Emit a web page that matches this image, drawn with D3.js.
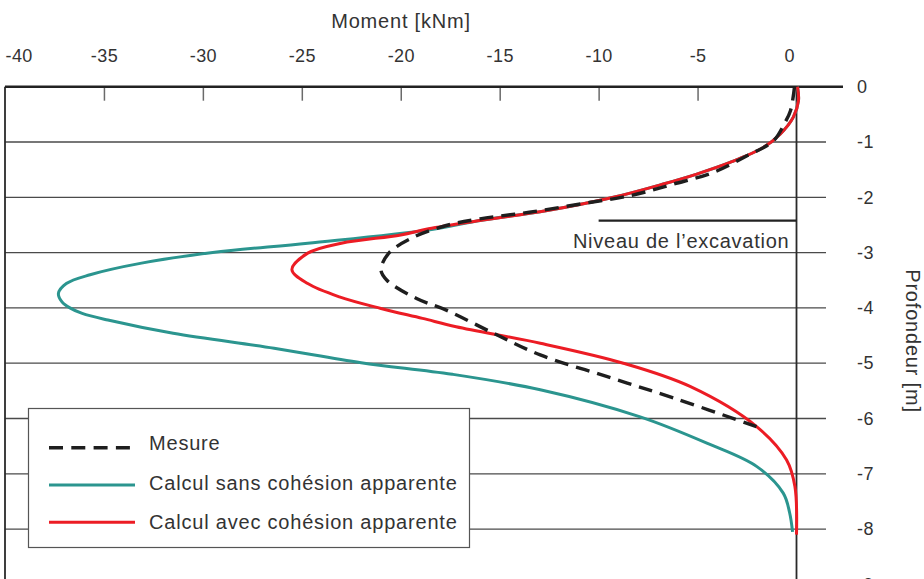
<!DOCTYPE html>
<html>
<head>
<meta charset="utf-8">
<script src="https://cdn.jsdelivr.net/npm/d3@7"></script>
<style>
  html, body { margin: 0; padding: 0; background: #fff; }
  svg { display: block; font-family: "Liberation Sans", Arial, Helvetica, sans-serif; }
</style>
</head>
<body>
<svg id="chart" width="924" height="579"></svg>
<script>
// Axis ticks
const momentTicks = [-40, -35, -30, -25, -20, -15, -10, -5, 0];
const depthTicks = [0, -1, -2, -3, -4, -5, -6, -7, -8, -9];

// Series: [depth (m), moment (kNm)]
const mesure = [
  [0, -0.1], [-0.43, -0.3], [-0.66, -0.6], [-0.98, -1.17], [-1.25, -2.5],
  [-1.55, -4.2], [-1.76, -6.2], [-1.97, -8.4], [-2.12, -10.9], [-2.27, -13.5],
  [-2.39, -16.0], [-2.51, -17.7], [-2.72, -19.35], [-3.01, -20.6], [-3.31, -21.0],
  [-3.5, -20.7], [-3.83, -19.2], [-4.04, -17.7], [-4.46, -15.3], [-4.85, -12.95],
  [-5.24, -9.6], [-5.63, -6.2], [-6.15, -2.0]
];
const sansCohesion = [
  [0, 0.05], [-0.25, 0.1], [-0.55, -0.16], [-0.86, -0.83], [-1.1, -1.68],
  [-1.37, -3.36], [-1.58, -5.04], [-1.76, -6.73], [-2.0, -9.25], [-2.24, -12.6],
  [-2.42, -16.0], [-2.59, -18.6], [-2.83, -24.7], [-3.0, -29.5], [-3.19, -33.1],
  [-3.4, -35.7], [-3.56, -36.9], [-3.74, -37.3], [-3.89, -37.12], [-4.0, -36.72],
  [-4.1, -36.1], [-4.22, -34.8], [-4.46, -31.5], [-4.73, -26.4], [-4.99, -22.0],
  [-5.2, -17.4], [-5.48, -12.95], [-5.97, -7.9], [-6.45, -4.5], [-6.87, -2.0],
  [-7.35, -0.67], [-7.7, -0.35], [-8.05, -0.2]
];
const avecCohesion = [
  [0, 0.05], [-0.25, 0.1], [-0.55, -0.16], [-0.86, -0.83], [-1.1, -1.68],
  [-1.37, -3.36], [-1.58, -5.04], [-1.76, -6.73], [-2.0, -9.25], [-2.24, -12.6],
  [-2.42, -16.0], [-2.57, -18.6], [-2.68, -20.0], [-2.83, -23.0], [-3.01, -24.7],
  [-3.31, -25.5], [-3.56, -24.7], [-3.8, -23.1], [-4.01, -21.0], [-4.19, -18.9],
  [-4.34, -17.2], [-4.64, -12.95], [-5.0, -8.75], [-5.42, -5.38], [-6.15, -2.0],
  [-6.75, -0.5], [-7.23, -0.08], [-8.1, 0.0]
];

// Excavation level marker: depth and moment span
const excavationDepth = -2.42;
const excavationSpan = [-10, 0];
const excavationLabel = "Niveau de l\u2019excavation";

const seriesNames = ["Mesure", "Calcul sans cohésion apparente", "Calcul avec cohésion apparente"];
const seriesColors = ["#1e1e1e", "#2b958f", "#ec1c24"];
const seriesData = [mesure, sansCohesion, avecCohesion];

const svg = d3.select("#chart");
const x = d3.scaleLinear().domain([-40, 0]).range([5, 796.5]);
const y = d3.scaleLinear().domain([0, -9]).range([86.7, 584.4]);
const textColor = "#333";
const fontFamily = "Liberation Sans, Arial, Helvetica, sans-serif";
const fmt = d => String(d);

// Horizontal grid lines
svg.append("g")
  .selectAll("line")
  .data(depthTicks.filter(d => d !== 0))
  .join("line")
  .attr("x1", x(-40)).attr("x2", 826)
  .attr("y1", d => y(d)).attr("y2", d => y(d))
  .attr("stroke", "#4a4a4a").attr("stroke-width", 1.3);

// Frame: left border and the zero-moment axis
svg.append("line").attr("x1", x(-40)).attr("x2", x(-40)).attr("y1", y(0)).attr("y2", 579)
  .attr("stroke", "#2a2a2a").attr("stroke-width", 1.8);
svg.append("line").attr("x1", x(0)).attr("x2", x(0)).attr("y1", y(0)).attr("y2", 579)
  .attr("stroke", "#2a2a2a").attr("stroke-width", 1.8);

// Top moment axis (tick marks inside the plot)
const topAxis = svg.append("g").attr("transform", `translate(0,${y(0)})`)
  .call(d3.axisBottom(x).tickValues(momentTicks.slice(1, -1)).tickSize(14).tickFormat(""));
topAxis.select(".domain").remove();
topAxis.selectAll(".tick line").attr("stroke", "#6a6a6a").attr("stroke-width", 1.5);

// Top border extending past the axis
svg.append("line").attr("x1", x(-40)).attr("x2", 843).attr("y1", y(0)).attr("y2", y(0))
  .attr("stroke", "#222").attr("stroke-width", 2.4);

// Moment tick labels
const labelAxis = svg.append("g").attr("transform", "translate(0,62)")
  .call(d3.axisTop(x).tickValues(momentTicks).tickSize(0).tickPadding(0).tickFormat(fmt));
labelAxis.select(".domain").remove();
labelAxis.attr("font-family", fontFamily);
labelAxis.selectAll("text")
  .attr("font-size", 18).attr("fill", textColor)
  .attr("letter-spacing", 0.4)
  .attr("dy", 0);
labelAxis.selectAll(".tick").filter(d => d === -40).select("text").attr("text-anchor", "start").attr("x", 0);
labelAxis.selectAll(".tick").filter(d => d === 0).select("text").attr("text-anchor", "end").attr("x", -2);

// Depth tick labels
const rightAxis = svg.append("g").attr("transform", "translate(857,0)")
  .call(d3.axisRight(y).tickValues(depthTicks).tickSize(0).tickPadding(0).tickFormat(fmt));
rightAxis.select(".domain").remove();
rightAxis.attr("font-family", fontFamily);
rightAxis.selectAll("text")
  .attr("font-size", 18).attr("fill", textColor)
  .attr("letter-spacing", 0.4);

// Axis titles
svg.append("text").attr("x", 401).attr("y", 28).attr("text-anchor", "middle")
  .attr("font-size", 20).attr("letter-spacing", 0.8).attr("fill", textColor).text("Moment [kNm]");
svg.append("text").attr("transform", "translate(906,341) rotate(90)").attr("text-anchor", "middle")
  .attr("font-size", 20).attr("letter-spacing", 0.8).attr("fill", textColor).text("Profondeur [m]");

// Excavation level
svg.append("line")
  .attr("x1", x(excavationSpan[0])).attr("x2", x(excavationSpan[1]))
  .attr("y1", y(excavationDepth)).attr("y2", y(excavationDepth))
  .attr("stroke", "#222").attr("stroke-width", 2.2);
svg.append("text").attr("x", x(0) - 7).attr("y", y(excavationDepth) + 27).attr("text-anchor", "end")
  .attr("font-size", 20).attr("letter-spacing", 0.75).attr("fill", textColor).text(excavationLabel);

// Moment curves
const line = d3.line()
  .x(d => x(d[1]))
  .y(d => y(d[0]))
  .curve(d3.curveCatmullRom.alpha(0.5));

const drawOrder = [1, 2, 0];
drawOrder.forEach(i => {
  svg.append("path")
    .datum(seriesData[i])
    .attr("d", line)
    .attr("fill", "none")
    .attr("stroke", seriesColors[i])
    .attr("stroke-width", i === 0 ? 3.4 : 3)
    .attr("stroke-dasharray", i === 0 ? "14,8" : null)
    .attr("stroke-linecap", "butt")
    .attr("stroke-linejoin", "round");
});

// Legend
const legend = svg.append("g");
legend.append("rect").attr("x", 28.5).attr("y", 408.5).attr("width", 441).attr("height", 139)
  .attr("fill", "#fff").attr("stroke", "#555").attr("stroke-width", 1.2);
seriesNames.forEach((name, i) => {
  const ly = 447.7 + i * 37.3;
  legend.append("line").attr("x1", 49).attr("x2", 135).attr("y1", ly).attr("y2", ly)
    .attr("stroke", seriesColors[i]).attr("stroke-width", i === 0 ? 3.4 : 3)
    .attr("stroke-dasharray", i === 0 ? "14,8.3" : null);
  legend.append("text").attr("x", 149).attr("y", 450 + i * 39.5)
    .attr("font-size", 20).attr("letter-spacing", 0.8).attr("fill", textColor).text(name);
});
</script>
</body>
</html>
